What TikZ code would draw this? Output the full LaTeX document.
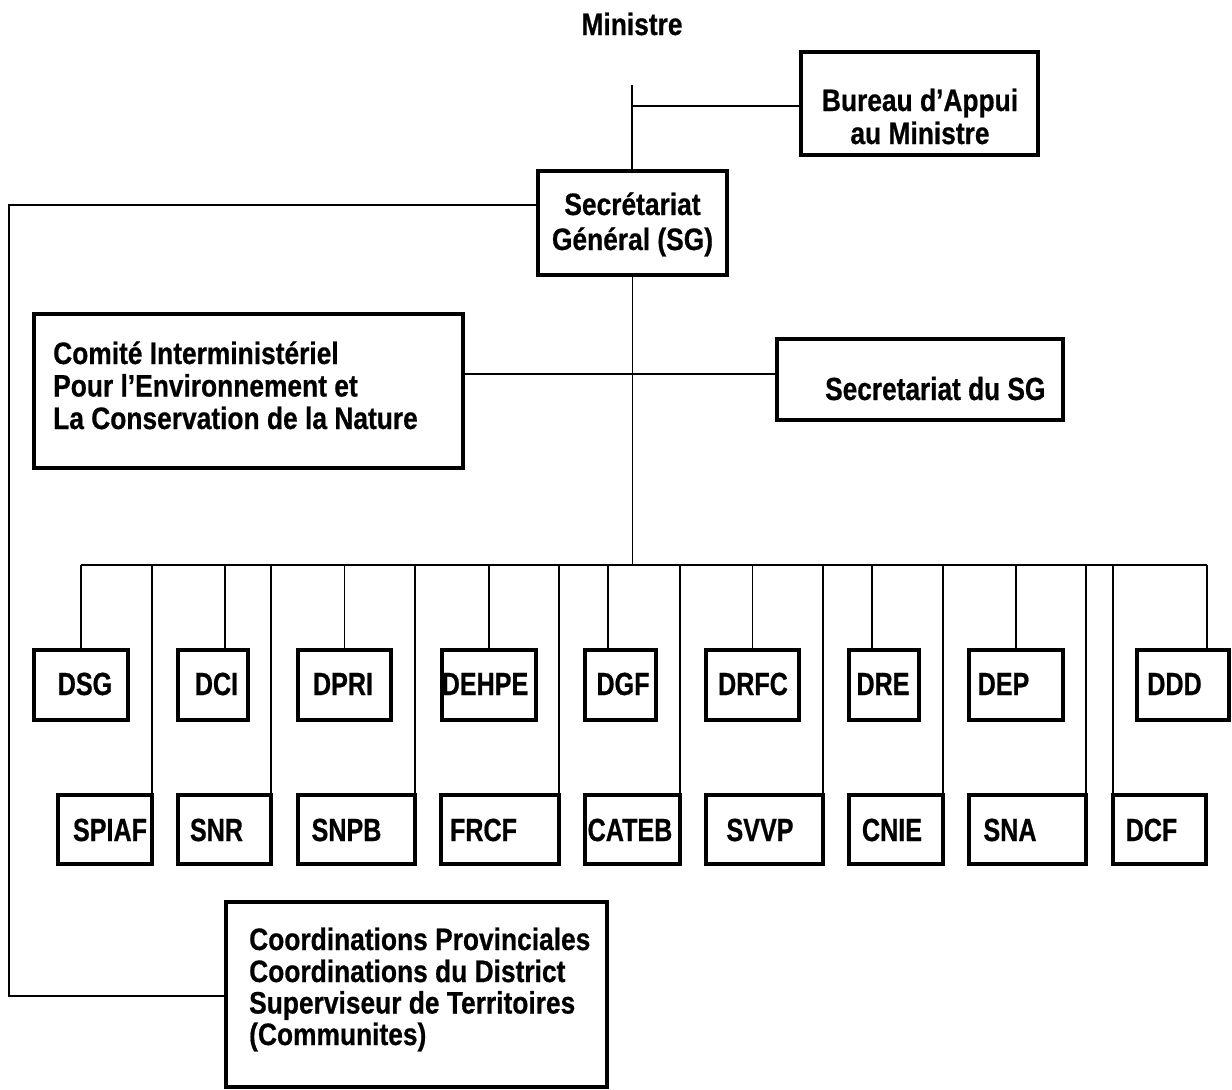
\documentclass[tikz,border=0pt]{standalone}
\usepackage{fontspec}
\setmainfont{Liberation Sans}
\newfontfamily\txtf{Liberation Sans}[FakeStretch=0.85,FakeBold=0.6]
\newfontfamily\abbf{Liberation Sans}[FakeStretch=0.785,FakeBold=0.6]
\newfontfamily\secf{Liberation Sans}[FakeStretch=0.82,FakeBold=0.6]
\usetikzlibrary{fit}
\begin{document}
\begin{tikzpicture}[x=1pt,y=-1pt,
  box/.style={draw, line width=3.6pt, inner sep=0pt, outer sep=0pt},
  link/.style={line width=1.5pt},
  txt/.style={inner sep=0pt, anchor=base, font=\txtf\bfseries\fontsize{31}{31}\selectfont},
  txtl/.style={txt, anchor=base west},
  abb/.style={inner sep=0pt, anchor=base, font=\abbf\bfseries\fontsize{32}{32}\selectfont},
  sec/.style={inner sep=0pt, anchor=base west, font=\secf\bfseries\fontsize{32}{32}\selectfont}]
\useasboundingbox (0,0) rectangle (1232,1090);
\fill[white] (0,0) rectangle (1232,1090);

% boxes
\node[box, fit={(801,52) (1038,155)}] (bureau) {};
\node[box, fit={(538,171) (727,275)}] (sg) {};
\node[box, fit={(34,314) (463,468)}] (comite) {};
\node[box, fit={(777,339) (1063,420)}] (secsg) {};
\node[box, fit={(226,902) (607,1087)}] (coord) {};
% top row
\node[box, fit={(34,650) (128,720)}] (dsg) {};
\node[box, fit={(178,650) (248,720)}] (dci) {};
\node[box, fit={(298,650) (391,720)}] (dpri) {};
\node[box, fit={(442,650) (536,720)}] (dehpe) {};
\node[box, fit={(585,650) (656,720)}] (dgf) {};
\node[box, fit={(706,650) (799,720)}] (drfc) {};
\node[box, fit={(849,650) (919,720)}] (dre) {};
\node[box, fit={(969,650) (1063,720)}] (dep) {};
\node[box, fit={(1137,650) (1229,720)}] (ddd) {};
% bottom row
\node[box, fit={(58,795) (152,864)}] (spiaf) {};
\node[box, fit={(178,795) (271,864)}] (snr) {};
\node[box, fit={(298,795) (415,864)}] (snpb) {};
\node[box, fit={(441,795) (559,864)}] (frcf) {};
\node[box, fit={(585,795) (680,864)}] (cateb) {};
\node[box, fit={(706,795) (823,864)}] (svvp) {};
\node[box, fit={(849,795) (943,864)}] (cnie) {};
\node[box, fit={(969,795) (1086,864)}] (sna) {};
\node[box, fit={(1113,795) (1206,864)}] (dcf) {};

% texts
\node[txt] (ministre) at (632,35) {Ministre};
\node[txt] (bureau-l1) at (920,111) {Bureau d’Appui};
\node[txt] (bureau-l2) at (920,144) {au Ministre};
\node[txt] (sg-l1) at (632.5,215) {Secrétariat};
\node[txt] (sg-l2) at (632.5,250) {Général (SG)};
\node[txtl] (comite-l1) at (53,364) {Comité Interministériel};
\node[txtl] (comite-l2) at (53,396.5) {Pour l’Environnement et};
\node[txtl] (comite-l3) at (53,429) {La Conservation de la Nature};
\node[sec] (secsg-t) at (825,400) {Secretariat du SG};
\node[txtl] (coord-l1) at (249,950) {Coordinations Provinciales};
\node[txtl] (coord-l2) at (249,982) {Coordinations du District};
\node[txtl] (coord-l3) at (249,1013.5) {Superviseur de Territoires};
\node[txtl] (coord-l4) at (249,1045) {(Communites)};

\node[abb] (t-dsg) at (85,695) {DSG};
\node[abb] (t-dci) at (216.5,695) {DCI};
\node[abb] (t-dpri) at (343,695) {DPRI};
\node[abb] (t-dehpe) at (485,695) {DEHPE};
\node[abb] (t-dgf) at (623,695) {DGF};
\node[abb] (t-drfc) at (753,695) {DRFC};
\node[abb] (t-dre) at (883,695) {DRE};
\node[abb] (t-dep) at (1003.5,695) {DEP};
\node[abb] (t-ddd) at (1174.5,695) {DDD};

\node[abb] (t-spiaf) at (110,841) {SPIAF};
\node[abb] (t-snr) at (216.5,841) {SNR};
\node[abb] (t-snpb) at (346.5,841) {SNPB};
\node[abb] (t-frcf) at (483.5,841) {FRCF};
\node[abb] (t-cateb) at (630,841) {CATEB};
\node[abb] (t-svvp) at (760,841) {SVVP};
\node[abb] (t-cnie) at (892,841) {CNIE};
\node[abb] (t-sna) at (1010,841) {SNA};
\node[abb] (t-dcf) at (1151.5,841) {DCF};

% connectors
\coordinate (top) at (632,85);
\coordinate (bj) at (632,106);
\coordinate (bus) at (632,565);
\coordinate (cl) at (632,374);
\coordinate (lt) at (9,205);
\coordinate (lb) at (9,996);

\draw[link] (top) -- (top |- sg.north);
\draw[link] (bj) -- (bj -| bureau.west);
\draw[link] (sg.south) -- (sg.south |- bus);
\draw[link] (lt -| sg.west) -- (lt) -- (lb) -- (lb -| coord.west);
\draw[link] (cl -| comite.east) -- (cl -| secsg.west);
\draw[link] (dsg.north |- bus) -- ([xshift=24pt]ddd.north |- bus);

\draw[link] (dsg.north) -- (dsg.north |- bus);
\draw[link] ([xshift=12pt]dci.north) -- ([xshift=12pt]dci.north |- bus);
\draw[link] (dpri.north) -- (dpri.north |- bus);
\draw[link] (dehpe.north) -- (dehpe.north |- bus);
\draw[link] ([xshift=-12.5pt]dgf.north) -- ([xshift=-12.5pt]dgf.north |- bus);
\draw[link] (drfc.north) -- (drfc.north |- bus);
\draw[link] ([xshift=-12pt]dre.north) -- ([xshift=-12pt]dre.north |- bus);
\draw[link] (dep.north) -- (dep.north |- bus);
\draw[link] ([xshift=24pt]ddd.north) -- ([xshift=24pt]ddd.north |- bus);

\draw[link] (spiaf.north east) -- (spiaf.north east |- bus);
\draw[link] (snr.north east) -- (snr.north east |- bus);
\draw[link] (snpb.north east) -- (snpb.north east |- bus);
\draw[link] (frcf.north east) -- (frcf.north east |- bus);
\draw[link] (cateb.north east) -- (cateb.north east |- bus);
\draw[link] (svvp.north east) -- (svvp.north east |- bus);
\draw[link] (cnie.north east) -- (cnie.north east |- bus);
\draw[link] (sna.north east) -- (sna.north east |- bus);
\draw[link] (dcf.north west) -- (dcf.north west |- bus);
\end{tikzpicture}
\end{document}
